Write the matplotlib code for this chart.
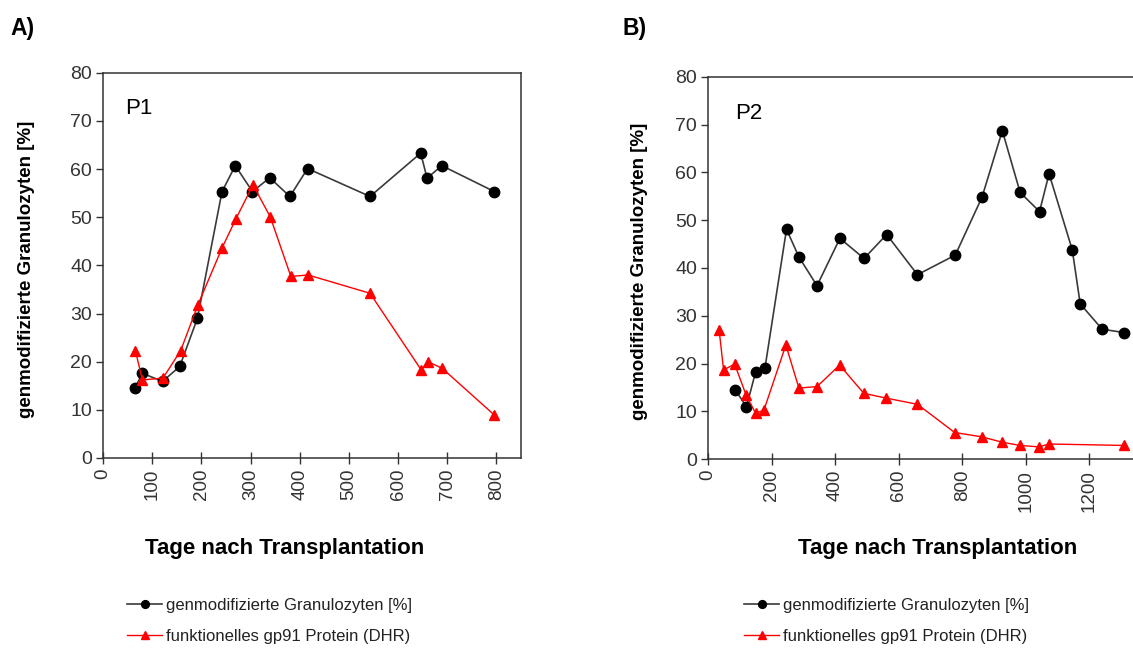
import numpy as np
import matplotlib
matplotlib.use('Agg')
import matplotlib.pyplot as plt

### Data (days after transplantation, percent)
# Panel A, patient P1
p1_gran_days = [65, 80, 121, 156, 192, 242, 269, 304, 339, 380, 416, 543, 646, 659, 689, 796]
p1_gran_pct = [14.5, 17.6, 15.9, 19.0, 29.0, 55.3, 60.7, 55.3, 58.2, 54.3, 60.1, 54.3, 63.3, 58.1, 60.7, 55.3]
p1_dhr_days = [66, 80, 122, 158, 193, 242, 270, 305, 340, 382, 417, 543, 647, 661, 690, 796]
p1_dhr_pct = [22.3, 16.2, 16.6, 22.3, 31.8, 43.6, 49.6, 56.7, 50.1, 37.7, 38.0, 34.2, 18.3, 20.0, 18.6, 8.9]

# Panel B, patient P2
p2_gran_days = [86, 121, 150, 179, 247, 286, 343, 415, 491, 562, 659, 778, 862, 926,
                982, 1043, 1073, 1146, 1171, 1240, 1309]
p2_gran_pct = [14.5, 11.0, 18.3, 19.0, 48.1, 42.3, 36.3, 46.2, 42.0, 47.0, 38.6, 42.7,
               54.8, 68.7, 55.8, 51.8, 59.7, 43.8, 32.5, 27.2, 26.5]
p2_dhr_days = [35, 49, 84, 120, 150, 176, 245, 286, 343, 414, 490, 560, 659, 776, 861,
               924, 981, 1042, 1072, 1309]
p2_dhr_pct = [27.0, 18.7, 19.9, 13.4, 9.6, 10.3, 23.9, 14.9, 15.2, 19.7, 13.8, 12.8, 11.5,
              5.6, 4.7, 3.6, 2.9, 2.6, 3.2, 2.9]

lab_gran = 'genmodifizierte Granulozyten [%]'
lab_dhr = 'funktionelles gp91 Protein (DHR)'
ylab = 'genmodifizierte Granulozyten [%]'
xlab = 'Tage nach Transplantation'

plt.rcParams['font.family'] = ['Liberation Sans', 'DejaVu Sans']

W, H = 1133., 649.
fig = plt.figure(figsize=(W/100, H/100), dpi=100)

def px_axes(l, t, r, b):
    return fig.add_axes([l/W, 1-b/H, (r-l)/W, (b-t)/H])

def style(ax, xticks, xmax, xlab_pos, ylab_pos):
    for s in ax.spines.values():
        s.set_color('#333333')
        s.set_linewidth(1.1)
    ax.set_ylim(0, 80)
    ax.set_yticks(np.arange(0, 81, 10))
    ax.set_xlim(0, xmax)
    ax.set_xticks(xticks)
    ax.set_xticklabels([str(v) for v in xticks], rotation=90)
    ax.tick_params(axis='x', direction='inout', length=9, width=1, color='#333333',
                   labelsize=13.5, labelcolor='#333333', pad=3)
    ax.tick_params(axis='y', direction='out', length=5, width=1, color='#333333',
                   labelsize=14, labelcolor='#333333', pad=3)
    ax.set_ylabel(ylab, fontsize=13.5, fontweight='bold', va='center')
    ax.yaxis.set_label_coords(*ylab_pos)
    ax.set_xlabel(xlab, fontsize=16, fontweight='bold', va='center')
    ax.xaxis.set_label_coords(*xlab_pos)

def draw(ax, gd, gp, dd, dp):
    g, = ax.plot(gd, gp, color='#3a3a3a', linewidth=1.2, marker='o', markersize=7.5,
                 markerfacecolor='black', markeredgecolor='black', clip_on=False)
    r, = ax.plot(dd, dp, color='#ff0000', linewidth=1, marker='^', markersize=7.5,
                 markerfacecolor='#ff0000', markeredgecolor='#ff0000', clip_on=False)
    return g, r

def legend(g, r, x):
    fig.legend([g, r], [lab_gran, lab_dhr], loc='center left',
               bbox_to_anchor=(x/W, 1-621/H), frameon=False, fontsize=12,
               handlelength=2.1, handletextpad=0.25, labelspacing=0.95, markerscale=0.75,
               labelcolor='#222222')

### Panel A
axA = px_axes(103, 72.7, 521, 458)
gA, rA = draw(axA, p1_gran_days, p1_gran_pct, p1_dhr_days, p1_dhr_pct)
style(axA, np.arange(0, 801, 100), 850, (0.434, -0.234), (-0.184, 0.49))
axA.text(0.052, 0.935, 'P1', transform=axA.transAxes, fontsize=16, va='top', ha='left')
fig.text(10/W, 1-28/H, 'A)', fontsize=16.5, fontweight='bold', va='center', ha='left')
legend(gA, rA, 112)

### Panel B
axB = px_axes(708, 76.7, 1153, 459.3)
gB, rB = draw(axB, p2_gran_days, p2_gran_pct, p2_dhr_days, p2_dhr_pct)
style(axB, np.arange(0, 1201, 200), 1400, (0.515, -0.232), (-0.153, 0.49))
axB.spines['right'].set_visible(False)
axB.text(0.062, 0.93, 'P2', transform=axB.transAxes, fontsize=16, va='top', ha='left')
fig.text(623/W, 1-28/H, 'B)', fontsize=16.5, fontweight='bold', va='center', ha='left')
legend(gB, rB, 729)

fig.savefig('out.png', dpi=100, facecolor='white')
